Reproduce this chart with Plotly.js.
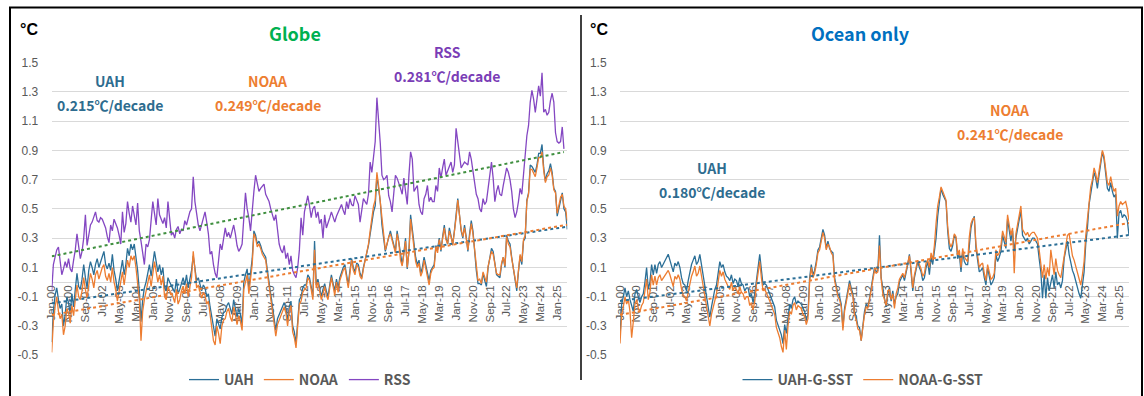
<!DOCTYPE html>
<html>
<head>
<meta charset="utf-8">
<script src="https://cdn.plot.ly/plotly-3.0.1.min.js"></script>
<style>
html,body{margin:0;padding:0;background:#fff;}
#chart{width:1144px;height:396px;}
</style>
</head>
<body>
<div id="chart"></div>
<script>
// ---------- DATA (monthly anomalies, °C) ----------
const uahGlobe = [
-0.41,-0.20,-0.09,-0.04,-0.12,-0.18,-0.15,-0.30,-0.22,-0.10,-0.14,-0.22,
-0.08,-0.17,-0.05,0.06,-0.03,-0.05,0.02,0.12,0.03,-0.04,0.08,0.14,
0.10,0.05,0.12,0.16,0.10,0.14,0.18,0.21,0.12,0.09,0.13,0.08,
0.19,0.08,0.02,-0.06,0.01,0.08,0.15,0.05,0.12,0.23,0.18,0.26,
0.22,0.26,0.17,0.08,-0.06,-0.27,-0.12,-0.04,0.00,0.07,0.12,0.04,
0.12,0.21,0.14,0.07,0.12,0.05,0.10,-0.04,-0.06,0.03,0.00,-0.02,
-0.04,-0.07,0.02,-0.08,-0.05,0.00,0.03,-0.02,0.05,-0.04,0.02,0.08,
0.18,0.10,0.01,0.03,-0.01,-0.06,-0.02,-0.04,-0.10,-0.08,-0.17,-0.24,
-0.33,-0.37,-0.25,-0.28,-0.32,-0.24,-0.21,-0.20,-0.16,-0.14,-0.19,-0.22,
-0.12,-0.17,-0.24,-0.18,-0.22,-0.29,0.00,0.05,0.09,-0.04,0.08,0.16,
0.35,0.32,0.26,0.28,0.25,0.21,0.19,0.17,0.08,0.00,-0.08,-0.17,
-0.24,-0.33,-0.25,-0.22,-0.19,-0.17,-0.14,-0.18,-0.27,-0.17,-0.13,-0.30,
-0.34,-0.42,-0.25,-0.12,-0.10,-0.04,-0.02,-0.02,0.05,0.03,-0.03,-0.10,
0.28,-0.02,0.02,-0.04,-0.10,-0.05,-0.01,-0.06,-0.10,-0.02,0.05,-0.01,
-0.06,0.02,-0.04,0.03,0.07,0.10,0.12,0.05,-0.02,0.08,0.16,0.10,
0.07,0.13,0.12,0.06,0.03,0.10,0.16,0.20,0.25,0.33,0.41,0.48,
0.52,0.73,0.64,0.55,0.39,0.30,0.21,0.26,0.31,0.35,0.30,0.25,
0.21,0.35,0.26,0.17,0.12,0.20,0.30,0.09,0.21,0.46,0.35,0.26,
0.17,0.12,0.15,0.06,0.10,0.17,0.12,0.08,0.01,0.08,0.10,0.12,
0.25,0.22,0.30,0.21,0.31,0.39,0.30,0.26,0.37,0.30,0.26,0.35,
0.45,0.57,0.46,0.35,0.30,0.39,0.31,0.21,0.33,0.42,0.35,0.20,
0.08,-0.01,-0.01,-0.02,0.06,0.01,-0.03,0.10,0.17,0.23,0.21,0.12,
0.05,0.04,0.03,0.12,0.17,0.10,0.32,0.28,0.26,0.17,0.10,0.03,
-0.06,0.07,0.18,0.12,0.28,0.30,0.56,0.61,0.80,0.79,0.77,0.75,
0.80,0.88,0.88,0.94,0.78,0.69,0.74,0.76,0.81,0.75,0.64,0.62,
0.45,0.50,0.57,0.61,0.50,0.48,0.36];

const noaaGlobe = [
-0.48,-0.27,-0.17,-0.10,-0.20,-0.25,-0.22,-0.36,-0.30,-0.18,-0.21,-0.28,
-0.16,-0.23,-0.12,-0.02,-0.10,-0.12,-0.06,0.03,-0.05,-0.11,-0.02,0.06,
0.02,-0.04,0.05,0.08,0.02,0.07,0.10,0.12,0.04,0.01,0.06,0.00,
0.10,0.00,-0.05,-0.13,-0.07,0.00,0.07,-0.02,0.05,0.15,0.10,0.18,
0.15,0.18,0.10,0.01,-0.12,-0.40,-0.20,-0.12,-0.07,0.00,0.05,-0.03,
0.05,0.14,0.07,0.00,0.05,-0.02,0.04,-0.10,-0.12,-0.03,-0.06,-0.08,
-0.10,-0.14,-0.05,-0.15,-0.12,-0.06,-0.03,-0.08,-0.01,-0.10,-0.04,0.03,
0.21,0.06,-0.04,-0.02,-0.06,-0.11,-0.07,-0.09,-0.15,-0.13,-0.22,-0.30,
-0.40,-0.43,-0.30,-0.35,-0.42,-0.30,-0.26,-0.25,-0.20,-0.18,-0.24,-0.27,
-0.17,-0.22,-0.29,-0.23,-0.27,-0.33,-0.05,0.00,0.05,-0.08,0.04,0.12,
0.33,0.30,0.24,0.26,0.23,0.19,0.17,0.15,0.06,-0.03,-0.11,-0.20,
-0.28,-0.37,-0.29,-0.26,-0.22,-0.20,-0.17,-0.21,-0.30,-0.20,-0.16,-0.34,
-0.38,-0.45,-0.28,-0.15,-0.13,-0.07,-0.05,-0.04,0.03,0.01,-0.05,-0.12,
0.22,-0.04,0.00,-0.06,-0.12,-0.08,-0.03,-0.09,-0.12,-0.04,0.03,-0.03,
-0.09,0.00,-0.07,0.01,0.05,0.08,0.10,0.03,-0.04,0.06,0.15,0.08,
0.05,0.12,0.10,0.04,0.02,0.09,0.15,0.19,0.26,0.35,0.43,0.52,
0.56,0.75,0.66,0.55,0.40,0.30,0.22,0.26,0.31,0.33,0.28,0.24,
0.20,0.33,0.27,0.15,0.11,0.19,0.28,0.10,0.20,0.43,0.33,0.24,
0.14,0.10,0.13,0.04,0.07,0.15,0.10,0.05,-0.02,0.06,0.09,0.10,
0.24,0.20,0.29,0.22,0.29,0.37,0.29,0.26,0.35,0.31,0.25,0.34,
0.44,0.56,0.45,0.36,0.31,0.37,0.30,0.22,0.31,0.40,0.33,0.22,
0.10,0.01,0.02,-0.01,0.07,0.03,0.00,0.11,0.16,0.21,0.19,0.13,
0.06,0.05,0.05,0.13,0.17,0.11,0.31,0.26,0.24,0.16,0.09,0.02,
-0.04,0.08,0.19,0.14,0.29,0.32,0.55,0.60,0.77,0.77,0.74,0.72,
0.78,0.85,0.85,0.89,0.76,0.68,0.72,0.73,0.78,0.73,0.63,0.61,
0.47,0.52,0.58,0.60,0.52,0.50,0.42];

const rssGlobe = [
-0.06,0.12,0.17,0.22,0.24,0.12,0.05,0.09,0.14,0.10,0.16,0.09,
0.07,0.15,0.22,0.33,0.25,0.16,0.21,0.30,0.46,0.25,0.32,0.39,
0.41,0.45,0.48,0.42,0.41,0.44,0.43,0.40,0.37,0.31,0.27,0.39,
0.35,0.43,0.40,0.37,0.32,0.26,0.48,0.34,0.40,0.55,0.47,0.41,
0.52,0.45,0.39,0.54,0.35,0.28,0.19,0.12,0.26,0.24,0.29,0.45,
0.55,0.47,0.39,0.57,0.46,0.43,0.40,0.44,0.37,0.55,0.44,0.32,
0.34,0.30,0.36,0.38,0.33,0.36,0.35,0.42,0.39,0.44,0.48,0.50,
0.72,0.55,0.45,0.39,0.35,0.40,0.44,0.48,0.41,0.33,0.19,0.21,
0.12,0.06,0.03,0.14,0.26,0.22,0.30,0.37,0.31,0.34,0.30,0.34,
0.39,0.33,0.25,0.21,0.23,0.26,0.48,0.61,0.50,0.44,0.35,0.52,
0.62,0.73,0.68,0.62,0.64,0.66,0.67,0.60,0.58,0.55,0.50,0.46,
0.42,0.46,0.35,0.26,0.22,0.20,0.25,0.16,0.20,0.12,0.18,0.08,
0.05,0.03,0.10,0.22,0.44,0.32,0.48,0.55,0.59,0.52,0.44,0.50,
0.52,0.44,0.48,0.40,0.43,0.30,0.46,0.37,0.40,0.44,0.48,0.45,
0.41,0.45,0.48,0.50,0.53,0.49,0.46,0.55,0.50,0.57,0.53,0.52,
0.59,0.56,0.53,0.41,0.50,0.57,0.55,0.53,0.60,0.82,0.75,0.86,
0.96,1.26,1.12,0.95,0.73,0.70,0.71,0.73,0.59,0.55,0.48,0.62,
0.73,0.71,0.68,0.64,0.60,0.71,0.62,0.53,0.73,0.89,0.84,0.62,
0.64,0.66,0.53,0.48,0.46,0.57,0.60,0.66,0.55,0.58,0.55,0.55,
0.66,0.62,0.78,0.71,0.78,0.84,0.73,0.76,0.78,0.82,0.75,0.80,
1.05,0.96,0.91,0.78,0.80,0.82,0.81,0.80,0.89,0.84,0.76,0.66,
0.60,0.57,0.50,0.48,0.57,0.53,0.55,0.64,0.73,0.82,0.71,0.55,
0.62,0.66,0.60,0.59,0.66,0.73,0.78,0.75,0.70,0.62,0.50,0.44,
0.48,0.55,0.64,0.60,0.75,0.85,1.00,1.07,1.23,1.31,1.25,1.16,
1.25,1.34,1.27,1.43,1.16,1.18,1.14,1.16,1.24,1.29,1.23,1.02,
0.96,0.95,0.96,1.06,0.91];

const uahOcean = [
-0.38,-0.15,-0.10,-0.04,-0.10,-0.06,-0.12,-0.17,-0.20,-0.08,-0.05,-0.10,
-0.14,-0.10,-0.08,0.00,0.10,-0.05,0.00,0.12,0.05,0.12,0.06,0.12,
0.14,0.10,0.12,0.14,0.17,0.19,0.15,0.10,0.07,0.13,0.11,0.14,
0.10,0.03,-0.01,-0.02,-0.06,0.01,0.08,0.12,0.15,0.18,0.12,0.14,
0.19,0.12,0.05,-0.02,-0.08,-0.15,-0.24,-0.17,-0.11,-0.05,-0.02,0.05,
0.14,0.10,0.12,0.07,0.04,0.03,0.01,0.05,-0.01,0.02,0.01,-0.03,
0.03,-0.01,-0.02,-0.06,-0.04,-0.04,-0.10,-0.08,-0.14,-0.08,0.03,0.10,
0.19,0.07,-0.02,-0.01,-0.02,-0.05,-0.08,-0.11,-0.15,-0.17,-0.26,-0.29,
-0.33,-0.36,-0.42,-0.29,-0.35,-0.24,-0.15,-0.18,-0.12,-0.10,-0.15,-0.13,
-0.14,-0.15,-0.18,-0.20,-0.26,-0.22,0.03,0.12,0.05,0.08,0.14,0.22,
0.24,0.30,0.36,0.32,0.23,0.28,0.23,0.21,0.20,0.03,-0.02,-0.08,
-0.10,-0.15,-0.31,-0.18,-0.12,-0.06,0.01,-0.04,-0.08,-0.20,-0.24,-0.30,
-0.31,-0.40,-0.28,-0.20,-0.15,-0.17,-0.11,-0.05,0.03,0.10,0.07,0.08,
0.32,0.03,-0.05,-0.11,-0.17,-0.08,-0.04,-0.13,-0.06,-0.15,-0.10,-0.08,
0.00,0.03,0.05,0.01,0.06,0.12,0.19,0.07,-0.06,0.03,0.08,0.14,
0.10,0.07,0.01,0.03,0.10,0.14,0.05,0.17,0.12,0.21,0.30,0.45,
0.53,0.64,0.60,0.57,0.55,0.35,0.23,0.21,0.25,0.32,0.30,0.16,
0.19,0.07,0.21,0.14,0.12,0.12,0.28,0.37,0.42,0.45,0.23,0.14,
0.07,0.08,0.10,0.03,-0.02,0.10,0.03,-0.02,0.00,0.03,0.19,0.14,
0.17,0.21,0.32,0.27,0.23,0.43,0.35,0.28,0.35,0.21,0.30,0.37,
0.44,0.49,0.32,0.30,0.28,0.30,0.26,0.28,0.30,0.30,0.28,0.26,
0.16,0.07,-0.11,0.05,-0.11,0.03,-0.06,0.00,0.05,-0.04,0.07,-0.02,
0.00,-0.04,0.01,0.16,0.23,0.28,0.19,0.12,0.08,0.05,0.00,-0.04,
-0.08,-0.11,-0.02,0.07,0.26,0.37,0.53,0.60,0.70,0.75,0.71,0.64,
0.73,0.81,0.89,0.84,0.75,0.64,0.62,0.68,0.62,0.58,0.60,0.30,
0.47,0.49,0.44,0.46,0.45,0.42,0.32];

const noaaOcean = [
-0.42,-0.22,-0.17,-0.10,-0.15,-0.12,-0.20,-0.38,-0.27,-0.15,-0.12,-0.18,
-0.20,-0.16,-0.14,-0.07,0.02,-0.12,-0.07,0.05,-0.02,0.04,-0.02,0.03,
0.05,0.01,0.03,0.05,0.07,0.08,0.05,0.00,-0.03,0.04,0.02,0.05,
0.02,-0.05,-0.09,-0.10,-0.13,-0.07,0.00,0.04,0.07,0.11,0.04,0.06,
0.11,0.04,-0.04,-0.10,-0.16,-0.24,-0.30,-0.22,-0.17,-0.11,-0.08,0.00,
0.08,0.04,0.07,0.02,-0.01,-0.03,-0.05,0.00,-0.06,-0.03,-0.05,-0.08,
-0.03,-0.07,-0.08,-0.12,-0.10,-0.10,-0.16,-0.14,-0.19,-0.13,-0.02,0.06,
0.14,0.03,-0.06,-0.05,-0.07,-0.10,-0.13,-0.16,-0.20,-0.22,-0.31,-0.35,
-0.38,-0.44,-0.48,-0.33,-0.46,-0.30,-0.20,-0.22,-0.16,-0.14,-0.19,-0.16,
-0.17,-0.18,-0.22,-0.23,-0.29,-0.25,0.00,0.10,0.03,0.06,0.12,0.20,
0.22,0.28,0.34,0.30,0.22,0.26,0.24,0.20,0.18,0.01,-0.04,-0.10,
-0.12,-0.17,-0.33,-0.20,-0.14,-0.08,-0.01,-0.06,-0.10,-0.22,-0.26,-0.32,
-0.33,-0.40,-0.30,-0.22,-0.17,-0.18,-0.12,-0.06,0.02,0.08,0.06,0.07,
0.25,0.02,-0.08,-0.13,-0.16,-0.06,-0.05,-0.12,-0.08,-0.18,-0.08,-0.04,
0.02,0.04,0.06,0.03,0.08,0.12,0.18,0.09,-0.04,0.05,0.10,0.15,
0.12,0.09,0.04,0.06,0.13,0.15,0.10,0.20,0.15,0.25,0.40,0.52,
0.58,0.65,0.62,0.59,0.56,0.38,0.27,0.24,0.27,0.33,0.31,0.19,
0.22,0.10,0.23,0.17,0.15,0.14,0.31,0.40,0.43,0.44,0.26,0.17,
0.10,0.12,0.13,0.06,0.01,0.12,0.06,0.02,0.03,0.06,0.22,0.18,
0.20,0.25,0.35,0.30,0.27,0.46,0.38,0.32,0.37,0.06,0.33,0.40,
0.48,0.52,0.36,0.34,0.32,0.34,0.31,0.33,0.34,0.34,0.32,0.30,
0.22,0.14,0.03,0.12,0.02,0.10,0.04,0.22,0.12,0.05,0.16,0.08,
0.05,0.03,0.10,0.18,0.24,0.32,0.33,0.25,0.18,0.15,0.11,0.06,
0.03,-0.02,0.05,0.14,0.32,0.44,0.58,0.65,0.70,0.78,0.74,0.68,
0.76,0.84,0.90,0.86,0.78,0.68,0.66,0.72,0.66,0.62,0.64,0.45,
0.52,0.55,0.53,0.54,0.55,0.50,0.42];

const monthNames = ['Jan','Feb','Mar','Apr','May','Jun','Jul','Aug','Sep','Oct','Nov','Dec'];
const startYear = 2000;
const nMonths = uahGlobe.length;
const months = [];
for (let i = 0; i < nMonths; i++) {
  const yr = startYear + Math.floor(i / 12);
  months.push(monthNames[i % 12] + '-' + String(yr % 100).padStart(2, '0'));
}
const xTickLabels = months.filter((_, i) => i % 10 === 0);
const yTickVals = [1.5, 1.3, 1.1, 0.9, 0.7, 0.5, 0.3, 0.1, -0.1, -0.3, -0.5];
const yTickText = ['1.5', '1.3', '1.1', '0.9', '0.7', '0.5', '0.3', '0.1', '-0.1', '-0.3', '-0.5'];

// ---------- helpers ----------
function linTrend(vals) {
  const n = vals.length;
  let sx = 0, sy = 0, sxx = 0, sxy = 0;
  for (let i = 0; i < n; i++) { sx += i; sy += vals[i]; sxx += i * i; sxy += i * vals[i]; }
  const slope = (n * sxy - sx * sy) / (n * sxx - sx * sx);
  const b = (sy - slope * sx) / n;
  return { x: [months[0], months[n - 1]], y: [b, b + slope * (n - 1)] };
}

const W = 1144, H = 396;
const px = v => v / W;
const py = v => 1 - v / H;

const cUAH = '#2b6f97', cNOAA = '#ED7D31', cRSS = '#8447c2', cRSSTrend = '#3f8f3f';
const tUAH = '#2e6c8f', tNOAA = '#ED7D31', tRSS = '#7a3db6';
const jp = '"Noto Sans CJK JP", "Noto Sans", sans-serif';
const lat = '"Liberation Sans", Arial, sans-serif';

const yD = [py(358), py(63)];
const yMin = -0.5, yMax = 1.5;
const zeroPos = yD[0] + (0 - yMin) / (yMax - yMin) * (yD[1] - yD[0]);

function line(x, y, name, color, xa, ya, leg, width) {
  return { type: 'scatter', mode: 'lines', x: x, y: y, name: name, xaxis: xa, yaxis: ya,
    legend: leg, line: { color: color, width: width || 1.3 }, hoverinfo: 'skip' };
}
function trendTrace(vals, color, xa, ya) {
  const t = linTrend(vals);
  return { type: 'scatter', mode: 'lines', x: t.x, y: t.y, xaxis: xa, yaxis: ya, showlegend: false,
    line: { color: color, width: 2, dash: 'dot' }, hoverinfo: 'skip' };
}

const traces = [
  line(months, uahGlobe, 'UAH', cUAH, 'x', 'y', 'legend'),
  line(months, noaaGlobe, 'NOAA', cNOAA, 'x', 'y', 'legend'),
  line(months.slice(0, rssGlobe.length), rssGlobe, 'RSS', cRSS, 'x', 'y', 'legend'),
  trendTrace(uahGlobe, cUAH, 'x', 'y'),
  trendTrace(noaaGlobe, cNOAA, 'x', 'y'),
  trendTrace(rssGlobe, cRSSTrend, 'x', 'y'),
  line(months, uahOcean, 'UAH-G-SST', cUAH, 'x2', 'y2', 'legend2'),
  line(months, noaaOcean, 'NOAA-G-SST', cNOAA, 'x2', 'y2', 'legend2'),
  trendTrace(uahOcean, cUAH, 'x2', 'y2'),
  trendTrace(noaaOcean, cNOAA, 'x2', 'y2')
];

function xAxis(domain) {
  return { type: 'category', categoryorder: 'array', categoryarray: months,
    domain: domain, range: [0, months.length - 1], anchor: 'free', position: zeroPos,
    tickmode: 'array', tickvals: xTickLabels, ticktext: xTickLabels, tickangle: -90,
    ticks: '', showgrid: false, zeroline: false, showline: false, layer: 'below traces',
    tickfont: { family: lat, size: 11.5, color: '#595959' }, fixedrange: true, automargin: false };
}
function yAxis(anchor) {
  return { domain: yD, range: [yMin, yMax], anchor: anchor, tickmode: 'array',
    tickvals: yTickVals, ticktext: yTickText, showgrid: true, gridcolor: '#D9D9D9', gridwidth: 1,
    zeroline: true, zerolinecolor: '#D9D9D9', zerolinewidth: 1, showline: false,
    ticks: 'outside', ticklen: 10, tickcolor: 'rgba(0,0,0,0)', layer: 'below traces',
    tickfont: { family: lat, size: 12, color: '#595959' }, fixedrange: true, automargin: false };
}

function ann(x, y, text, color, size, family, weight) {
  return { xref: 'paper', yref: 'paper', x: px(x), y: py(y), text: text, showarrow: false,
    xanchor: 'center', yanchor: 'middle',
    font: { family: family || jp, size: size || 14, color: color, weight: weight || 700 } };
}

const layout = {
  width: W, height: H,
  margin: { l: 0, r: 0, t: 0, b: 0, pad: 0 },
  paper_bgcolor: '#ffffff', plot_bgcolor: 'rgba(0,0,0,0)',
  showlegend: true,
  xaxis: xAxis([px(51.7), px(567.3)]),
  yaxis: yAxis('x'),
  xaxis2: xAxis([px(620), px(1129)]),
  yaxis2: yAxis('x2'),
  legend: { orientation: 'h', x: px(300), xanchor: 'center', y: py(383), yanchor: 'middle',
    font: { family: jp, size: 14, color: '#595959', weight: 700 }, bgcolor: 'rgba(0,0,0,0)', itemwidth: 30 },
  legend2: { orientation: 'h', x: px(863), xanchor: 'center', y: py(383), yanchor: 'middle',
    font: { family: jp, size: 14, color: '#595959', weight: 700 }, bgcolor: 'rgba(0,0,0,0)', itemwidth: 30 },
  annotations: [
    ann(28.5, 30, '°C', '#000000', 16, lat, 700),
    ann(295, 33, 'Globe', '#00B050', 18),
    ann(110, 82, 'UAH', tUAH, 14),
    ann(110, 106, '0.215℃/decade', tUAH, 14),
    ann(268, 82, 'NOAA', tNOAA, 14),
    ann(268, 106, '0.249℃/decade', tNOAA, 14),
    ann(447.5, 52, 'RSS', tRSS, 14),
    ann(447, 77, '0.281℃/decade', tRSS, 14),
    ann(598.5, 30, '°C', '#000000', 16, lat, 700),
    ann(860, 33, 'Ocean only', '#0070C0', 18),
    ann(712, 169, 'UAH', tUAH, 14),
    ann(712, 193, '0.180℃/decade', tUAH, 14),
    ann(1010, 111, 'NOAA', tNOAA, 14),
    ann(1010, 135, '0.241℃/decade', tNOAA, 14)
  ],
  shapes: [
    { type: 'rect', xref: 'paper', yref: 'paper', x0: px(10), x1: px(1142), y0: -0.05, y1: py(7.5),
      line: { color: '#000000', width: 2 }, fillcolor: 'rgba(0,0,0,0)', layer: 'above' },
    { type: 'line', xref: 'paper', yref: 'paper', x0: px(581), x1: px(581), y0: py(383), y1: py(15),
      line: { color: '#000000', width: 1.5 }, layer: 'above' }
  ]
};

Plotly.newPlot('chart', traces, layout, { displayModeBar: false, staticPlot: true });
</script>
</body>
</html>
